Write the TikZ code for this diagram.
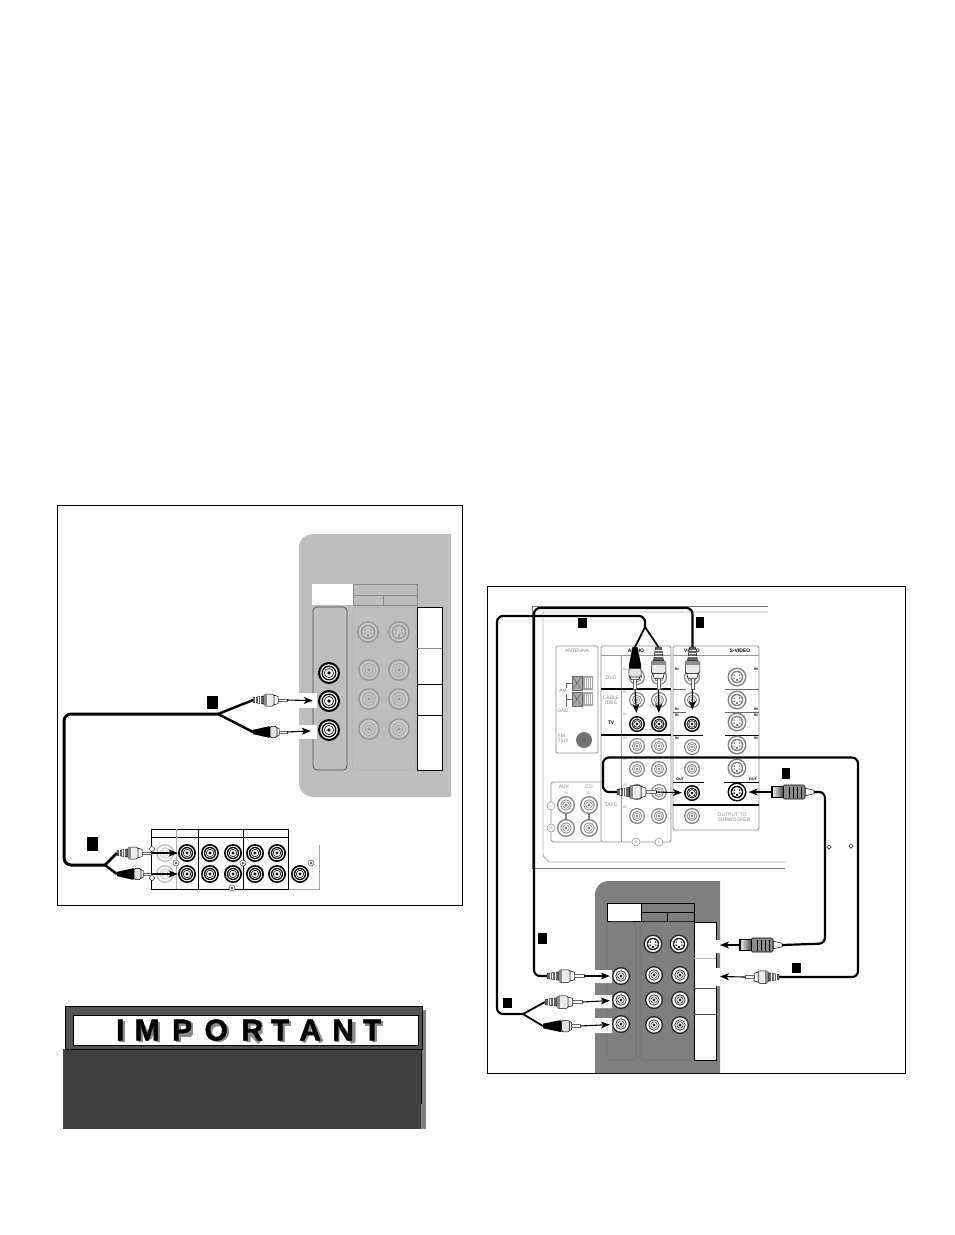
\documentclass[tikz,border=0pt]{standalone}
\usepackage{fontspec}
\setmainfont{Liberation Sans}
\newfontfamily\impfont[BoldFeatures={FakeBold=1.4}]{Liberation Sans}
\usetikzlibrary{arrows.meta,shapes.geometric}
\definecolor{panelA}{HTML}{BEBEBE}
\definecolor{panelB}{HTML}{7F7F7F}
\definecolor{impdark}{HTML}{404040}
\definecolor{glab}{HTML}{8A8A8A}
\tikzset{x=1pt,y=-1pt,
  frame/.style={draw=black,line width=0.8pt},
  arr/.style={draw=black,line width=1.1pt,-{Stealth[length=9pt,width=7pt,inset=2.5pt]}},
  cableA/.style={draw=black,line width=3pt,rounded corners=7pt,line join=round},
  cableB/.style={draw=black,line width=2.2pt,rounded corners=6pt,line join=round},
  tag/.style={fill=black,inner sep=0pt},
  lab/.style={inner sep=0pt,font=\fontsize{5}{5.4}\selectfont,text=glab,align=center},
  labk/.style={inner sep=0pt,font=\fontsize{5}{5.4}\bfseries\selectfont,text=black,align=center},
  boxl/.style={draw=glab,line width=0.7pt,rounded corners=2pt,fill=white},
  shadowline/.style={draw=black!45,line width=6pt,line cap=butt,line join=bevel},
}
\newcommand\jackK[4]{%
  \node[circle,fill=black,inner sep=0pt,minimum size=#4*2pt] (#1) at (#2,#3) {};
  \fill[white] (#2,#3) circle[radius=#4*.80];
  \fill[black] (#2,#3) circle[radius=#4*.68];
  \fill[white] (#2,#3) circle[radius=#4*.55];
  \draw[black,line width=.6pt] (#2,#3) circle[radius=#4*.42];
  \fill[black] (#2,#3) circle[radius=#4*.17];}
\newcommand\jackG[6]{%
  \node[circle,fill=#5,inner sep=0pt,minimum size=#4*2pt] (#1) at (#2,#3) {};
  \fill[#6] (#2,#3) circle[radius=#4*.84];
  \draw[#5,line width=.7pt] (#2,#3) circle[radius=#4*.58];
  \draw[#5,line width=.5pt] (#2,#3) circle[radius=#4*.36];
  \fill[#5] (#2,#3) circle[radius=#4*.17];}
\newcommand\jackS[6]{%
  \node[circle,fill=#5,inner sep=0pt,minimum size=#4*2pt] (#1) at (#2,#3) {};
  \fill[#6] (#2,#3) circle[radius=#4*.84];
  \fill[#5] (#2,#3) circle[radius=#4*.66];
  \fill[#6] (#2,#3) circle[radius=#4*.52];
  \fill[#5] ([shift={(-#4*.28,-#4*.2)}]#2,#3) circle[radius=#4*.1];
  \fill[#5] ([shift={(#4*.28,-#4*.2)}]#2,#3) circle[radius=#4*.1];
  \fill[#5] ([shift={(-#4*.3,#4*.12)}]#2,#3) circle[radius=#4*.1];
  \fill[#5] ([shift={(#4*.3,#4*.12)}]#2,#3) circle[radius=#4*.1];
  \fill[#5] ([shift={(-#4*.12,#4*.18)}]#2,#3) rectangle ([shift={(#4*.12,#4*.46)}]#2,#3);}
\newcommand\screw[3]{\node[circle,draw=black!70,fill=white,line width=.5pt,inner sep=0pt,minimum size=6pt] (#1) at (#2,#3) {};
  \fill[black!60] (#2,#3) circle[radius=1.5];}
% white RCA plug: name, x, y, angle, xscale, yscale
\newcommand\rca[6]{%
 \begin{scope}[shift={(#2,#3)},rotate=#4,xscale=#5,yscale=#6]
  \coordinate (#1-c) at (0,0);
  \coordinate (#1-t) at (34,0);
  \fill[black!60,draw=black,line width=.4pt] (0,-2) -- (11,-3.4) -- (11,3.4) -- (0,2) -- cycle;
  \draw[white,line width=.5pt] (2.5,-2.3) -- (2.5,2.3) (5,-2.7) -- (5,2.7) (7.5,-3) -- (7.5,3);
  \fill[black!8,draw=black,line width=.5pt,rounded corners=1.5pt] (11,-5) rectangle (21,5);
  \fill[black!45] (11,-5) rectangle (14,5);
  \fill[white,draw=black,line width=.5pt] (21,-4) -- (25,-3) -- (25,3) -- (21,4) -- cycle;
  \fill[white,draw=black!60,line width=.3pt] (25,-1.1) rectangle (34,1.1);
 \end{scope}}
% black RCA plug: name, x, y, angle, xscale, yscale
\newcommand\rcaK[6]{%
 \begin{scope}[shift={(#2,#3)},rotate=#4,xscale=#5,yscale=#6]
  \coordinate (#1-c) at (0,0);
  \coordinate (#1-t) at (34,0);
  \fill[black] (0,-1.8) -- (15,-4.6) -- (17,-4.6) -- (17,4.6) -- (15,4.6) -- (0,1.8) -- cycle;
  \fill[black!12,draw=black,line width=.5pt,rounded corners=1.5pt] (17,-4.6) rectangle (24,4.6);
  \fill[white,draw=black,line width=.5pt] (24,-3.6) -- (26,-3) -- (26,3) -- (24,3.6) -- cycle;
  \fill[white,draw=black!60,line width=.3pt] (26,-1.1) rectangle (34,1.1);
 \end{scope}}
\newcommand\svplug[4]{%
 \begin{scope}[shift={(#2,#3)},rotate=#4]
  \coordinate (#1-c) at (0,0);
  \coordinate (#1-t) at (43,0);
  \fill[white,draw=black,line width=.5pt] (0,-1.8) -- (9,-3.8) -- (9,3.8) -- (0,1.8) -- cycle;
  \fill[black!45,draw=black,line width=.6pt,rounded corners=1.5pt] (9,-7) rectangle (31,7);
  \foreach \q in {13,17,21,25} \draw[black,line width=.7pt] (\q,-5.5) -- (\q,5.5);
  \shade[left color=white,right color=black!70,draw=black,line width=.6pt] (31,-5.5) rectangle (43,5.5);
  \fill[black] (41.5,-5.5) rectangle (43,5.5);
 \end{scope}}
\begin{document}
\begin{tikzpicture}
\useasboundingbox (0,0) rectangle (954,1235);
\fill[white] (0,0) rectangle (954,1235);

%% ---------- left frame ----------
\node[frame,inner sep=0pt,minimum width=405pt,minimum height=400pt,anchor=north west] (frameL) at (57,505) {};
\fill[panelA] (451,534) -- (315,534) .. controls (304,534) and (299,540) .. (299,548) -- (299,782) .. controls (299,790) and (304,797) .. (315,797) -- (451,797) -- cycle;
\fill[white] (312,584) rectangle (353,605);
\draw[draw=black!45,line width=.7pt] (353,584) -- (417,584) -- (417,605) -- (353,605) -- cycle (353,595) -- (417,595) (383,595) -- (383,605);
\draw[draw=black!70,line width=.7pt,rounded corners=4pt] (313,607) rectangle (347,770);
\draw[draw=black!30,line width=.7pt,rounded corners=4pt] (352,607) rectangle (416,770);
\fill[white,draw=black,line width=.8pt] (417,607) rectangle (442,770);
\draw[draw=black!45,line width=.7pt] (417,648) -- (442,648);
\draw[draw=black,line width=.7pt] (417,684) -- (442,684) (417,715) -- (442,715);
\fill[white] (298,693) rectangle (317,708);
\fill[white] (298,725) rectangle (317,739);
\jackK{tA}{329}{673}{11}
\jackK{tB}{329}{701}{11}
\jackK{tC}{329}{730}{11}
\jackS{tS1}{368}{632}{11}{black!38}{black!22}
\jackS{tS2}{399}{632}{11}{black!38}{black!22}
\foreach \n/\px/\py in {a1/369/670,a2/399/670,a3/369/699,a4/399/699,a5/369/729,a6/399/729}
  {\jackG{t\n}{\px}{\py}{11}{black!38}{black!22}}
\draw[draw=black!35,line width=.8pt] (319,845) -- (319,889) -- (290,889);
\draw[draw=black,line width=.7pt] (151,829) rectangle (288,889) (151,837) -- (288,837) (198,829) -- (198,889) (243,829) -- (243,889);
\draw[draw=black!30,line width=.8pt] (176,829) -- (176,889);
\jackG{sG1}{165}{853}{9}{black!25}{white}
\jackG{sG2}{165}{874}{9}{black!25}{white}
\foreach \n/\px/\py in {a/187/853,b/210/853,c/233/853,d/255/853,e/277/853,f/187/874,g/210/874,h/233/874,i/255/874,j/277/874,k/300/874}
  {\jackK{s\n}{\px}{\py}{9}}
\node[circle,draw=black,fill=white,line width=.4pt,inner sep=0pt,minimum size=5pt] (o1) at (152,849) {};
\node[circle,draw=black,fill=white,line width=.4pt,inner sep=0pt,minimum size=5pt] (o2) at (152,878) {};
\screw{m1}{176}{863}\screw{m2}{243}{863}\screw{m3}{232}{888}\screw{m4}{311}{863}
\rca{pA}{253}{700}{0}{1}{1.2}
\rcaK{pB}{253}{732}{0}{1}{1.2}
\rca{pC}{117}{853}{0}{1}{1.2}
\rcaK{pD}{117}{874}{0}{1}{1.2}
\coordinate (spA) at (218,714);
\coordinate (spB) at (105,865);
\draw[cableA] (spA) -- (64,714) -- (64,865) -- (spB);
\draw[draw=black,line width=2.5pt] (pA-c) -- (spA) -- (pB-c);
\draw[draw=black,line width=2.5pt] (pC-c) -- (spB) -- (pD-c);
\draw[arr,shorten >=5pt] (pA-t) -- (tB);
\draw[arr,shorten >=7pt] (pB-t) -- (tC);
\draw[arr,shorten >=0pt] (pC-t) -- (sa);
\draw[arr,shorten >=0pt] (pD-t) -- (sf);
\node[tag,minimum width=11pt,minimum height=13pt] (tag1) at (212,702) {};
\node[tag,minimum width=11pt,minimum height=14pt] (tag2) at (92.5,844) {};

%% ---------- IMPORTANT ----------
\fill[black!50] (421,1010) rectangle (426,1129);
\draw[draw=black,line width=.8pt] (421,1049) -- (421,1104);
\fill[impdark] (63,1049) rectangle (421,1129);
\fill[black!68,draw=black,line width=.8pt] (65,1006) rectangle (422,1049);
\node[draw=black,fill=white,line width=1.2pt,inner sep=0pt,minimum width=345pt,minimum height=30pt,anchor=north west] (imp) at (72.5,1014.5) {};
\begin{scope}[shift={(2.2,2.2)}]
 \draw[shadowline] (120,1019) -- (120,1040);
 \draw[shadowline,line width=4.5pt] (138.5,1040) -- (138.5,1020) -- (147,1036) -- (155.5,1020) -- (155.5,1040);
 \draw[shadowline,line width=5pt] (176,1040) -- (176,1021) -- (188,1021) -- (188,1032) -- (176,1032);
 \draw[shadowline,line width=5pt] (216,1029.5) ellipse[x radius=8.5,y radius=8];
 \draw[shadowline,line width=5pt] (246,1040) -- (246,1021) -- (258,1021) -- (258,1030) -- (248,1030) -- (258,1040);
 \draw[shadowline,line width=5pt] (271,1021) -- (289,1021) (280,1021) -- (280,1040);
 \draw[shadowline,line width=5pt] (301,1040) -- (310,1020) -- (319,1040);
 \draw[shadowline,line width=5pt] (335,1040) -- (335,1021) -- (351,1040) -- (351,1020);
 \draw[shadowline,line width=5pt] (363,1021) -- (381,1021) (372,1021) -- (372,1040);
\end{scope}
\node[anchor=west,inner sep=0pt,text=black,font=\impfont\bfseries\fontsize{30}{30}\selectfont] (impT) at (115.8,1030) {I\kern10.33pt M\kern12.5pt P\kern12.33pt O\kern13.5pt R\kern8pt T\kern10pt A\kern11.33pt N\kern9pt T};

%% ---------- right frame ----------
\node[frame,inner sep=0pt,minimum width=418pt,minimum height=487pt,anchor=north west] (frameR) at (487,586) {};
\draw[draw=black!55,line width=.8pt] (768,606) -- (532,606) -- (532,868) -- (785,868);
\draw[draw=black!30,line width=.8pt] (768,612) -- (543,612) -- (543,854) .. controls (543,858) and (547,858) .. (549,862) -- (785,862);
\draw[boxl] (556,646) rectangle (598,753);
\node[lab] (lAnt) at (577,651) {ANTENNA};
\fill[black!35] (572,676) rectangle (593,690) (572,692) rectangle (593,706);
\draw[draw=black!60,line width=.5pt] (572,676) rectangle (582,690) (572,692) rectangle (582,706);
\draw[draw=black!60,line width=.5pt] (572,676) -- (582,690) (582,676) -- (572,690) (572,692) -- (582,706) (582,692) -- (572,706);
\foreach \q in {585,587,589,591} \draw[white,line width=.4pt] (\q,678) -- (\q,688) (\q,694) -- (\q,704);
\draw[draw=black!60,line width=.4pt] (572,683) -- (566,683) -- (566,688) (572,699) -- (566,699) -- (566,694) (566,699) -- (566,707);
\node[lab] (lAM) at (563,691) {AM};
\node[lab] (lGND) at (563,711) {GND};
\node[lab,align=left] (lFM) at (563,738) {FM\\75$\Omega$};
\node[circle,fill=black!55,inner sep=0pt,minimum size=16pt] (fm) at (584,740) {};
\draw[boxl] (601,646) rectangle (671,842);
\draw[draw=black!40,line width=.6pt] (621,655) -- (621,842) (601,655) -- (671,655);
\draw[draw=black,line width=1.2pt] (601,689) -- (671,689) (601,735) -- (671,735);
\node[labk] (lAud) at (636,650.5) {AUDIO};
\node[lab] (lDVD) at (611,678) {DVD};
\node[lab] (lCab) at (611,700) {CABLE\\/DBS};
\node[labk] (lTV) at (611,723) {TV};
\node[lab] (lTape) at (611,805) {TAPE};
\foreach \n/\py in {a/669,b/692,c/714,d/738,e/759,f/785,g/807}
  {\node[lab,font=\fontsize{3.6}{4}\selectfont] (lI\n) at (625,\py) {\ifx\n e OUT\else\ifx\n g OUT\else IN\fi\fi};}
\foreach \n/\px/\py in {a/637/677,b/659/677,c/637/700,d/659/700,e/637/746,f/659/746,g/637/769,h/659/769,i/637/792,j/659/792,k/637/816,l/659/816}
  {\jackG{r\n}{\px}{\py}{8}{black!50}{white}}
\jackK{rL}{637}{724}{8}
\jackK{rR}{659}{724}{8}
\node[circle,draw=glab,fill=white,line width=.5pt,inner sep=0pt,minimum size=8pt,lab,font=\fontsize{3.6}{4}\selectfont] (cR) at (636,842) {R};
\node[circle,draw=glab,fill=white,line width=.5pt,inner sep=0pt,minimum size=8pt,lab,font=\fontsize{3.6}{4}\selectfont] (cL) at (659,842) {L};
\draw[boxl,fill=none] (601,782) -- (555,782) .. controls (552,782) and (551,783) .. (551,786) -- (551,838) .. controls (551,840) and (552,842) .. (555,842) -- (601,842);
\node[lab] (lAux) at (564,787) {AUX};
\node[lab] (lCD) at (589,787) {CD};
\node[lab,font=\fontsize{3.6}{4}\selectfont] (lIa) at (566,793) {IN};
\node[lab,font=\fontsize{3.6}{4}\selectfont] (lIb) at (589,793) {IN};
\draw[draw=black!50,line width=2pt] (566,805) -- (566,828) (589,805) -- (589,828);
\jackG{x1}{566}{805}{9}{black!50}{white}
\jackG{x2}{566}{828}{9}{black!50}{white}
\jackG{x3}{589}{805}{9}{black!50}{white}
\jackG{x4}{589}{828}{9}{black!50}{white}
\node[circle,draw=glab,fill=white,line width=.5pt,inner sep=0pt,minimum size=8pt,lab,font=\fontsize{3.6}{4}\selectfont] (cxL) at (551,806) {L};
\node[circle,draw=glab,fill=white,line width=.5pt,inner sep=0pt,minimum size=8pt,lab,font=\fontsize{3.6}{4}\selectfont] (cxR) at (551,828) {R};
\draw[boxl] (673,646) rectangle (759,830);
\draw[draw=black!40,line width=.6pt] (673,655) -- (759,655);
\draw[draw=black,line width=.7pt] (673,735) -- (703,735) (725,735) -- (759,735);
\draw[draw=black,line width=1.3pt] (673,805) -- (759,805);
\draw[draw=black!60,line width=.6pt] (673,689) -- (686,689) (725,689) -- (759,689) (673,712) -- (686,712) (725,712) -- (759,712);
\draw[draw=black,line width=.6pt] (673,782) -- (704,782) (724,782) -- (759,782);
\node[labk] (lVid) at (692,650.5) {VIDEO};
\node[labk] (lSV) at (740,650.5) {S-VIDEO};
\foreach \n/\py in {a/669,b/709,c/715,d/738}
  {\node[labk,font=\fontsize{3.6}{4}\bfseries\selectfont] (lVl\n) at (677,\py) {IN};
   \node[labk,font=\fontsize{3.6}{4}\bfseries\selectfont] (lVr\n) at (756,\py) {IN};}
\node[labk,font=\fontsize{3.6}{4}\bfseries\selectfont] (lO1) at (680,779) {OUT};
\node[labk,font=\fontsize{3.6}{4}\bfseries\selectfont] (lO2) at (753,779) {OUT};
\foreach \n/\py in {a/677,b/700,c/747,d/769,e/816}
  {\jackG{v\n}{692}{\py}{8}{black!50}{white}}
\jackK{vK}{692}{724}{8}
\jackK{vO}{692}{793}{8}
\foreach \n/\py in {a/677,b/700,c/722,d/745,e/768}
  {\jackS{w\n}{737}{\py}{9.5}{black!50}{white}}
\jackS{wO}{737}{792}{9.5}{black}{white}
\node[lab,align=left] (lOut) at (734,817) {OUTPUT TO\\SUBWOOFER};
\node[diamond,draw=black,fill=white,line width=.5pt,inner sep=0pt,minimum size=4.5pt] (d1) at (829,847) {};
\node[diamond,draw=black,fill=white,line width=.5pt,inner sep=0pt,minimum size=4.5pt] (d2) at (851,846) {};

\fill[panelB] (720,881) -- (610,881) .. controls (600,881) and (595,887) .. (595,895) -- (595,1073) -- (720,1073) -- cycle;
\fill[white] (607,903) rectangle (641,921);
\draw[draw=black,line width=.8pt] (607,903) rectangle (694,921) (641,903) -- (641,921) (641,912) -- (694,912) (667,912) -- (667,921);
\draw[draw=black!55,line width=.6pt,rounded corners=4pt] (607,922) rectangle (636,1060);
\draw[draw=black!55,line width=.6pt,rounded corners=4pt] (640,922) rectangle (694,1060);
\fill[white,draw=black,line width=.7pt] (694,922) rectangle (716,1060);
\draw[draw=black!30,line width=.6pt] (694,958) -- (716,958);
\draw[draw=black!70,line width=.6pt] (694,988) -- (716,988) (694,1014) -- (716,1014);
\fill[white] (715,940) rectangle (720,953) (715,968) rectangle (720,986);
\fill[white] (595,970) rectangle (612,983) (595,995) rectangle (612,1008) (595,1018) rectangle (612,1033);
\foreach \n/\px/\py in {a/621/976,b/621/1000,c/621/1024,d/654/975,e/680/975,f/654/1000,g/680/1000,h/654/1025,i/680/1025}
  {\jackG{u\n}{\px}{\py}{9}{black!85}{white}}
\jackS{uS1}{653}{944}{9.5}{black!85}{white}
\jackS{uS2}{679}{944}{9.5}{black!85}{white}

\rcaK{qT1}{635}{647}{-90}{1.25}{1.35}
\rca{qT2}{658.5}{647}{-90}{1.25}{1.45}
\rca{qT3}{692.5}{647}{-90}{1.25}{1.45}
\rca{qTape}{617}{792}{0}{1.15}{1.35}
\rca{qR}{779}{977}{180}{1}{1.25}
\rca{qL1}{547}{976}{0}{1.1}{1.25}
\rca{qL2}{545}{1002}{0}{1.1}{1.25}
\rcaK{qL3}{543}{1026}{0}{1.1}{1.25}
\svplug{qS1}{814}{792}{180}
\svplug{qS2}{782}{945}{180}
\coordinate (spC) at (645,627);
\coordinate (spD) at (523,1014);
\draw[cableB] (spC) -- (645,616) -- (497,616) -- (497,1014) -- (spD);
\draw[draw=black,line width=1.8pt] (qT1-c) -- (spC) -- (qT2-c);
\draw[draw=black,line width=1.8pt] (qL2-c) -- (spD) -- (qL3-c);
\draw[cableB] (qT3-c) -- (692.5,608) -- (534,608) -- (534,976) -- (qL1-c);
\draw[cableB] (qTape-c) -- (603,792) -- (603,757.5) -- (858,757.5) -- (858,977) -- (qR-c);
\draw[cableB] (qS1-c) -- (825,792) -- (825,943.5) -- (qS2-c);
\draw[arr,shorten >=3pt] (qT1-t) -- (rL);
\draw[arr,shorten >=3pt] (qT2-t) -- (rR);
\draw[arr,shorten >=6pt] (qT3-t) -- (vK);
\draw[arr,shorten >=2pt] (qTape-t) -- (vO);
\draw[arr,shorten >=2pt] (qS1-t) -- (wO);
\draw[arr,shorten >=2pt] (qL1-t) -- (ua);
\draw[arr,shorten >=2pt] (qL2-t) -- (ub);
\draw[arr,shorten >=2pt] (qL3-t) -- (uc);
\coordinate (nS) at (720,945);
\coordinate (nR) at (720,976.5);
\draw[arr] (qS2-t) -- (nS);
\draw[arr] (qR-t) -- (nR);
\node[tag,minimum width=9pt,minimum height=10pt] (t1) at (582.5,623) {};
\node[tag,minimum width=8.5pt,minimum height=10.5pt] (t2) at (700,622.5) {};
\node[tag,minimum width=8.5pt,minimum height=11pt] (t3) at (786,773.5) {};
\node[tag,minimum width=9pt,minimum height=11pt] (t4) at (542.5,938.5) {};
\node[tag,minimum width=9pt,minimum height=10.5pt] (t5) at (507.5,1003) {};
\node[tag,minimum width=9pt,minimum height=10.5pt] (t6) at (796.5,968) {};
\end{tikzpicture}
\end{document}
